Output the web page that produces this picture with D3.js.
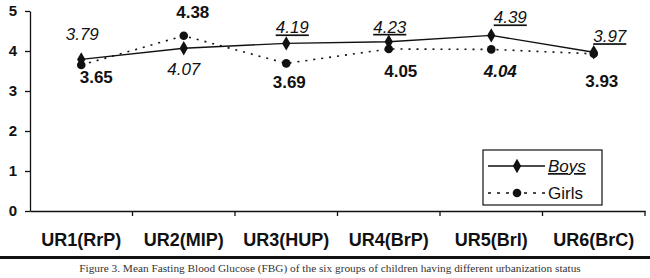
<!DOCTYPE html>
<html>
<head>
<meta charset="utf-8">
<script src="https://cdn.jsdelivr.net/npm/d3@7"></script>
<style>
  body { margin: 0; background: #fff; }
  svg { display: block; }
</style>
</head>
<body>
<svg width="650" height="278"></svg>
<script>
// chart data
var categories = ["UR1(RrP)", "UR2(MIP)", "UR3(HUP)", "UR4(BrP)", "UR5(Brl)", "UR6(BrC)"];
var boys = [3.79, 4.07, 4.19, 4.23, 4.39, 3.97];
var girls = [3.65, 4.38, 3.69, 4.05, 4.04, 3.93];
var yTicks = [0, 1, 2, 3, 4, 5];
var caption = "Figure 3. Mean Fasting Blood Glucose (FBG) of the six groups of children having different urbanization status";

// where each value label sits relative to its point [dx, dy]
var boysLabelOffset = [[1, -19], [0, 27], [6, -10], [1, -9], [19, -12], [16, -10]];
var girlsLabelOffset = [[15, 18], [9, -18], [3, 25], [12, 28], [9, 28], [8, 33]];
var boysUnderline = [false, false, true, true, true, true];

var svg = d3.select("svg");
var ink = "#111";

var xScale = d3.scaleBand().domain(categories).range([30, 645]).padding(0);
var yScale = d3.scaleLinear().domain([0, 5]).range([211, 11]);
function cx(i) { return xScale(categories[i]) + xScale.bandwidth() / 2; }

// y axis
var yAxis = svg.append("g")
  .attr("transform", "translate(30,0)")
  .call(d3.axisLeft(yScale).tickValues(yTicks).tickFormat(d3.format("d")).tickSize(5).tickSizeOuter(0));
yAxis.select(".domain").attr("stroke", ink).attr("stroke-width", 1.3);
yAxis.selectAll(".tick line").attr("stroke", ink).attr("stroke-width", 1.3);
yAxis.selectAll(".tick text")
  .attr("x", -13)
  .attr("fill", ink)
  .style("font-family", "Liberation Sans, Arial, sans-serif")
  .style("font-weight", "bold")
  .style("font-size", "15px");

// x axis with ticks between categories
var xAxis = svg.append("g")
  .attr("transform", "translate(0,211)")
  .call(d3.axisBottom(xScale).tickSize(0).tickSizeOuter(0));
xAxis.select(".domain").attr("stroke", ink).attr("stroke-width", 1.3);
xAxis.selectAll(".tick text")
  .attr("y", 22)
  .attr("dy", "0.71em")
  .attr("fill", ink)
  .style("font-family", "Liberation Sans, Arial, sans-serif")
  .style("font-weight", "bold")
  .style("font-size", "18px");
xAxis.selectAll(".boundary")
  .data(categories)
  .enter()
  .append("line")
  .attr("x1", function (d) { return xScale(d) + xScale.bandwidth(); })
  .attr("x2", function (d) { return xScale(d) + xScale.bandwidth(); })
  .attr("y1", 0)
  .attr("y2", 5)
  .attr("stroke", ink)
  .attr("stroke-width", 1.3);

// lines
var line = d3.line()
  .x(function (d, i) { return cx(i); })
  .y(function (d) { return yScale(d); });

svg.append("path")
  .datum(girls)
  .attr("d", line)
  .attr("fill", "none")
  .attr("stroke", ink)
  .attr("stroke-width", 1.6)
  .attr("stroke-dasharray", "2,6");

svg.append("path")
  .datum(boys)
  .attr("d", line)
  .attr("fill", "none")
  .attr("stroke", ink)
  .attr("stroke-width", 1.4);

var diamond = d3.symbol().type(d3.symbolDiamond).size(60);

svg.selectAll(".girl-pt")
  .data(girls)
  .enter()
  .append("circle")
  .attr("cx", function (d, i) { return cx(i); })
  .attr("cy", function (d) { return yScale(d); })
  .attr("r", 4.3)
  .attr("fill", ink);

svg.selectAll(".boy-pt")
  .data(boys)
  .enter()
  .append("path")
  .attr("d", diamond)
  .attr("transform", function (d, i) { return "translate(" + cx(i) + "," + yScale(d) + ")"; })
  .attr("fill", ink);

// value labels
var fmt = d3.format(".2f");
svg.selectAll(".boy-label")
  .data(boys)
  .enter()
  .append("text")
  .attr("x", function (d, i) { return cx(i) + boysLabelOffset[i][0]; })
  .attr("y", function (d, i) { return yScale(d) + boysLabelOffset[i][1]; })
  .attr("text-anchor", "middle")
  .attr("fill", ink)
  .style("font-family", "Liberation Sans, Arial, sans-serif")
  .style("font-style", "italic")
  .style("font-size", "17px")
  .style("text-decoration", function (d, i) { return boysUnderline[i] ? "underline" : "none"; })
  .text(function (d) { return fmt(d); });

svg.selectAll(".girl-label")
  .data(girls)
  .enter()
  .append("text")
  .attr("x", function (d, i) { return cx(i) + girlsLabelOffset[i][0]; })
  .attr("y", function (d, i) { return yScale(d) + girlsLabelOffset[i][1]; })
  .attr("text-anchor", "middle")
  .attr("fill", ink)
  .style("font-family", "Liberation Sans, Arial, sans-serif")
  .style("font-weight", "bold")
  .style("font-style", function (d, i) { return i === 4 ? "italic" : "normal"; })
  .style("font-size", "17px")
  .text(function (d) { return fmt(d); });

// legend
var legend = svg.append("g").attr("transform", "translate(483,150)");
legend.append("rect")
  .attr("width", 119)
  .attr("height", 55)
  .attr("fill", "#fff")
  .attr("stroke", ink)
  .attr("stroke-width", 1.2);
legend.append("line")
  .attr("x1", 5).attr("x2", 62).attr("y1", 16).attr("y2", 16)
  .attr("stroke", ink).attr("stroke-width", 1.4);
legend.append("path")
  .attr("d", diamond)
  .attr("transform", "translate(34,16)")
  .attr("fill", ink);
legend.append("text")
  .attr("x", 65).attr("y", 22)
  .attr("fill", ink)
  .style("font-family", "Liberation Sans, Arial, sans-serif")
  .style("font-style", "italic")
  .style("font-size", "17px")
  .style("text-decoration", "underline")
  .text("Boys");
legend.append("line")
  .attr("x1", 5).attr("x2", 62).attr("y1", 43).attr("y2", 43)
  .attr("stroke", ink).attr("stroke-width", 1.6).attr("stroke-dasharray", "3,6");
legend.append("circle")
  .attr("cx", 34).attr("cy", 43).attr("r", 4.3)
  .attr("fill", ink);
legend.append("text")
  .attr("x", 65).attr("y", 49)
  .attr("fill", ink)
  .style("font-family", "Liberation Sans, Arial, sans-serif")
  .style("font-size", "17px")
  .text("Girls");

// rule and caption
svg.append("rect")
  .attr("x", 0).attr("y", 256)
  .attr("width", 650).attr("height", 3)
  .attr("fill", ink);
svg.append("text")
  .attr("x", 330).attr("y", 272)
  .attr("text-anchor", "middle")
  .attr("fill", "#333")
  .style("font-family", "Liberation Serif, Times New Roman, serif")
  .style("font-size", "11.3px")
  .text(caption);
</script>
</body>
</html>
